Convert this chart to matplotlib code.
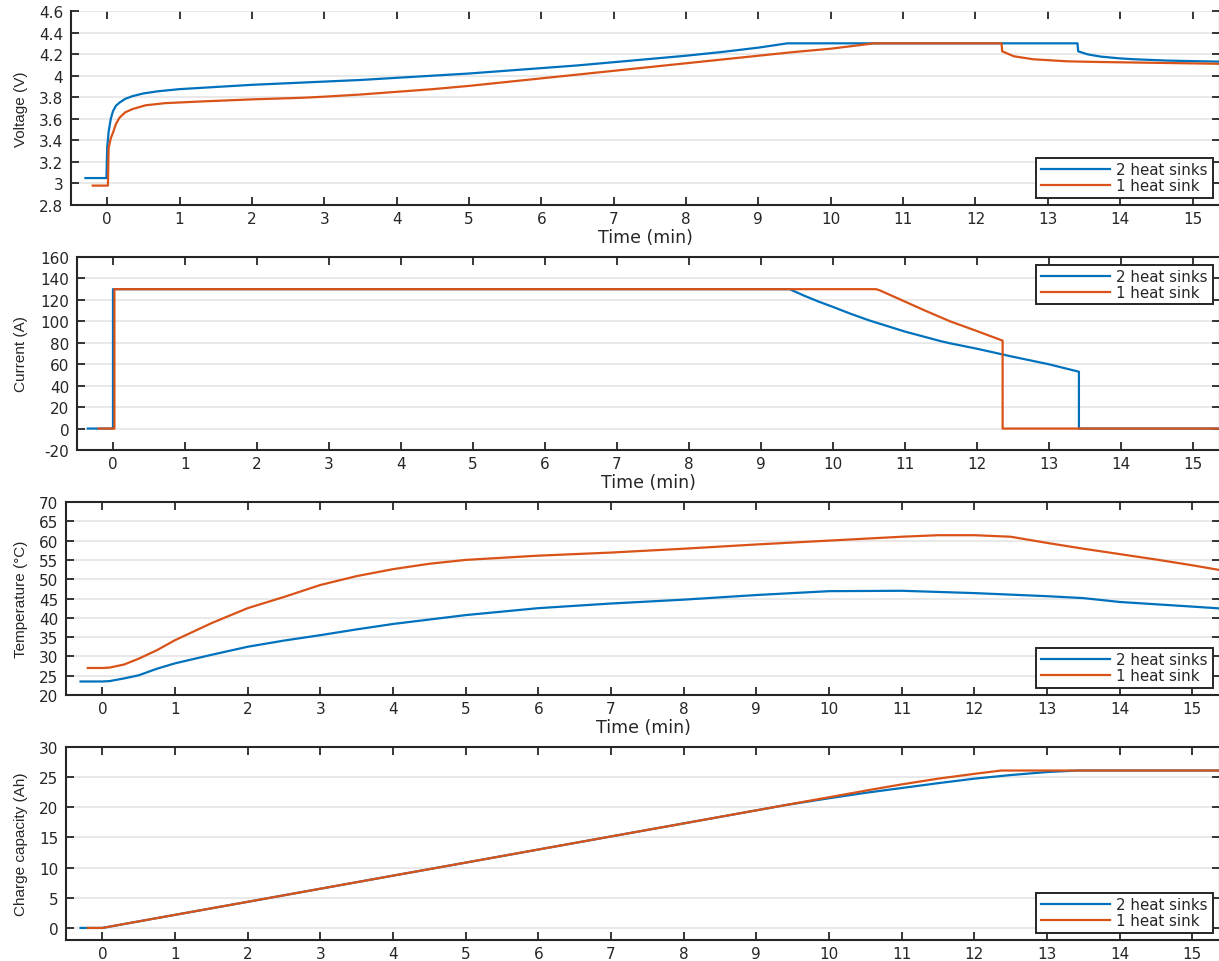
import matplotlib
matplotlib.use("Agg")
import matplotlib.pyplot as plt
import numpy as np

# ---------------- data ----------------
series_labels = ["2 heat sinks", "1 heat sink"]
colors = ["#0072BD", "#D95319"]

# Voltage (V)
volt_t_2 = [-0.3, -0.01, 0.0, 0.02, 0.05, 0.08, 0.12, 0.17, 0.25, 0.35, 0.5, 0.7, 1.0, 1.5, 2.0, 2.5,
            3.0, 3.5, 4.0, 4.5, 5.0, 5.5, 6.0, 6.5, 7.0, 7.5, 8.0, 8.5, 9.0, 9.2, 9.4, 11.0, 13.0,
            13.41, 13.42, 13.55, 13.73, 14.0, 14.2, 14.65, 15.0, 15.4]
volt_v_2 = [3.05, 3.05, 3.33, 3.48, 3.60, 3.67, 3.72, 3.75, 3.785, 3.81, 3.835, 3.855, 3.875, 3.895, 3.915, 3.93,
            3.945, 3.96, 3.98, 4.0, 4.02, 4.045, 4.07, 4.095, 4.125, 4.155, 4.185, 4.22, 4.26, 4.28, 4.30, 4.30, 4.30,
            4.30, 4.226, 4.198, 4.177, 4.16, 4.152, 4.14, 4.135, 4.13]
volt_t_1 = [-0.2, 0.01, 0.02, 0.05, 0.08, 0.12, 0.17, 0.25, 0.35, 0.53, 0.8, 1.28, 2.0, 2.7, 3.0, 3.5,
            4.0, 4.5, 5.0, 5.5, 6.0, 6.5, 7.0, 7.5, 8.0, 8.5, 9.0, 9.5, 10.0, 10.3, 10.6, 11.5, 12.36,
            12.37, 12.53, 12.8, 13.27, 13.7, 14.2, 15.4]
volt_v_1 = [2.98, 2.98, 3.33, 3.42, 3.47, 3.55, 3.61, 3.66, 3.69, 3.725, 3.745, 3.76, 3.78, 3.795, 3.805, 3.825,
            3.85, 3.875, 3.905, 3.94, 3.975, 4.01, 4.045, 4.08, 4.115, 4.15, 4.185, 4.22, 4.25, 4.275, 4.30, 4.30, 4.30,
            4.226, 4.18, 4.152, 4.133, 4.127, 4.122, 4.11]

# Current (A)
curr_t_2 = [-0.35, 0.0, 0.0, 9.4, 9.6, 9.8, 10.0, 10.25, 10.5, 11.0, 11.5, 11.63, 12.0, 12.5, 13.0, 13.42, 13.42, 15.4]
curr_i_2 = [0, 0, 130, 130, 124, 118.5, 113.5, 107, 101, 90.5, 81.5, 79.5, 74.5, 67, 60, 53, 0, 0]
curr_t_1 = [-0.2, 0.02, 0.02, 10.6, 10.65, 10.8, 11.0, 11.3, 11.63, 12.0, 12.36, 12.36, 15.4]
curr_i_1 = [0, 0, 130, 130, 129, 124.5, 118.5, 109.5, 100, 91, 82, 0, 0]

# Temperature (degC)
temp_t_2 = [-0.3, 0.0, 0.1, 0.3, 0.5, 0.75, 1.0, 1.5, 2.0, 2.5, 3.0, 3.5, 4.0, 5.0, 6.0, 7.0, 8.0,
            9.0, 10.0, 11.0, 12.0, 13.0, 13.5, 14.0, 15.0, 15.4]
temp_v_2 = [23.5, 23.5, 23.6, 24.3, 25.1, 26.8, 28.2, 30.4, 32.5, 34.1, 35.5, 37.0, 38.4, 40.7, 42.5, 43.7, 44.7,
            45.9, 46.9, 47.0, 46.4, 45.6, 45.1, 44.1, 42.9, 42.4]
temp_t_1 = [-0.2, 0.0, 0.1, 0.3, 0.5, 0.75, 1.0, 1.5, 2.0, 2.5, 3.0, 3.5, 4.0, 4.5, 5.0, 6.0, 7.0, 8.0,
            9.0, 10.0, 11.0, 11.5, 12.0, 12.5, 13.0, 13.5, 14.0, 14.5, 15.0, 15.4]
temp_v_1 = [27.0, 27.0, 27.1, 27.9, 29.4, 31.6, 34.2, 38.6, 42.5, 45.4, 48.5, 50.8, 52.6, 54.0, 55.0, 56.1, 56.9, 57.9,
            59.0, 60.0, 61.0, 61.4, 61.4, 61.0, 59.4, 57.9, 56.5, 55.1, 53.6, 52.3]

# Charge capacity (Ah)
cap_t_2 = [-0.3, 0.0, 1, 2, 3, 4, 5, 6, 7, 8, 9, 9.4, 10.0, 10.5, 11.0, 11.5, 12.0, 12.5, 13.0, 13.42, 15.4]
cap_v_2 = [0, 0, 2.17, 4.33, 6.5, 8.67, 10.83, 13.0, 15.17, 17.33, 19.5, 20.37, 21.5, 22.4, 23.2, 24.0, 24.75, 25.35,
           25.85, 26.1, 26.1]
cap_t_1 = [-0.2, 0.0, 1, 2, 3, 4, 5, 6, 7, 8, 9, 10, 10.6, 11.0, 11.5, 12.0, 12.37, 15.4]
cap_v_1 = [0, 0, 2.17, 4.33, 6.5, 8.67, 10.83, 13.0, 15.17, 17.33, 19.5, 21.67, 22.97, 23.8, 24.75, 25.55, 26.1, 26.1]

x_ticks = list(range(0, 16))
xlims = (-0.5, 15.38)

panels = [
    dict(t=[volt_t_2, volt_t_1], y=[volt_v_2, volt_v_1], ylabel="Voltage (V)",
         ylim=(2.8, 4.6), yticks=[2.8, 3.0, 3.2, 3.4, 3.6, 3.8, 4.0, 4.2, 4.4, 4.6],
         yticklabels=["2.8", "3", "3.2", "3.4", "3.6", "3.8", "4", "4.2", "4.4", "4.6"],
         px=(71, 12, 206), loc="lower right", xlabel=True, topspine=False),
    dict(t=[curr_t_2, curr_t_1], y=[curr_i_2, curr_i_1], ylabel="Current (A)",
         ylim=(-20, 160), yticks=list(range(-20, 161, 20)), yticklabels=None,
         px=(77, 258, 451), loc="upper right", xlabel=True, topspine=True),
    dict(t=[temp_t_2, temp_t_1], y=[temp_v_2, temp_v_1], ylabel="Temperature (°C)",
         ylim=(20, 70), yticks=list(range(20, 71, 5)), yticklabels=None,
         px=(66, 503, 696), loc="lower right", xlabel=True, topspine=True),
    dict(t=[cap_t_2, cap_t_1], y=[cap_v_2, cap_v_1], ylabel="Charge capacity (Ah)",
         ylim=(-2, 30), yticks=list(range(0, 31, 5)), yticklabels=None,
         px=(66, 748, 941), loc="lower right", xlabel=False, topspine=True),
]

W, H = 1219, 962
dark = "#262626"
plt.rcParams["font.family"] = ["DejaVu Sans"]
plt.rcParams["axes.unicode_minus"] = False
fig = plt.figure(figsize=(W / 100, H / 100), dpi=100)

right_px = 1220
for p in panels:
    L, T, B = p["px"]
    ax = fig.add_axes([L / W, 1 - B / H, (right_px - L) / W, (B - T) / H])
    for tt, yy, c, lab in zip(p["t"], p["y"], colors, series_labels):
        ax.plot(tt, yy, color=c, lw=1.6, label=lab)
    ax.set_xlim(*xlims)
    ax.set_ylim(*p["ylim"])
    ax.set_xticks(x_ticks)
    ax.set_yticks(p["yticks"])
    if p["yticklabels"] is not None:
        ax.set_yticklabels(p["yticklabels"])
    ax.grid(axis="y", color="#e3e3e3", lw=1.1)
    ax.set_axisbelow(True)
    ax.tick_params(axis="both", direction="in", length=6, width=1.3, color=dark,
                   labelcolor=dark, labelsize=11, top=True, right=True)
    ax.tick_params(axis="y", pad=5.5)
    ax.tick_params(axis="x", pad=4.5)
    for s in ax.spines.values():
        s.set_color(dark)
        s.set_linewidth(1.5)
    if not p["topspine"]:
        ax.spines["top"].set_visible(False)
    ax.set_ylabel(p["ylabel"], family="Liberation Sans", fontsize=11, color=dark, va="center")
    ax.yaxis.set_label_coords(21 / W, 1 - ((T + B) / 2) / H, transform=fig.transFigure)
    if p["xlabel"]:
        ax.set_xlabel("Time (min)", fontsize=12.5, color=dark, labelpad=1)
    leg = ax.legend(loc=p["loc"], fontsize=10.8, handlelength=4.6, handletextpad=0.45,
                    borderpad=0.3, labelspacing=0.05, borderaxespad=0.5, fancybox=False,
                    framealpha=1.0, edgecolor=dark)
    leg.get_frame().set_linewidth(1.4)
    for txt in leg.get_texts():
        txt.set_color(dark)

fig.savefig("out.png", dpi=100)
